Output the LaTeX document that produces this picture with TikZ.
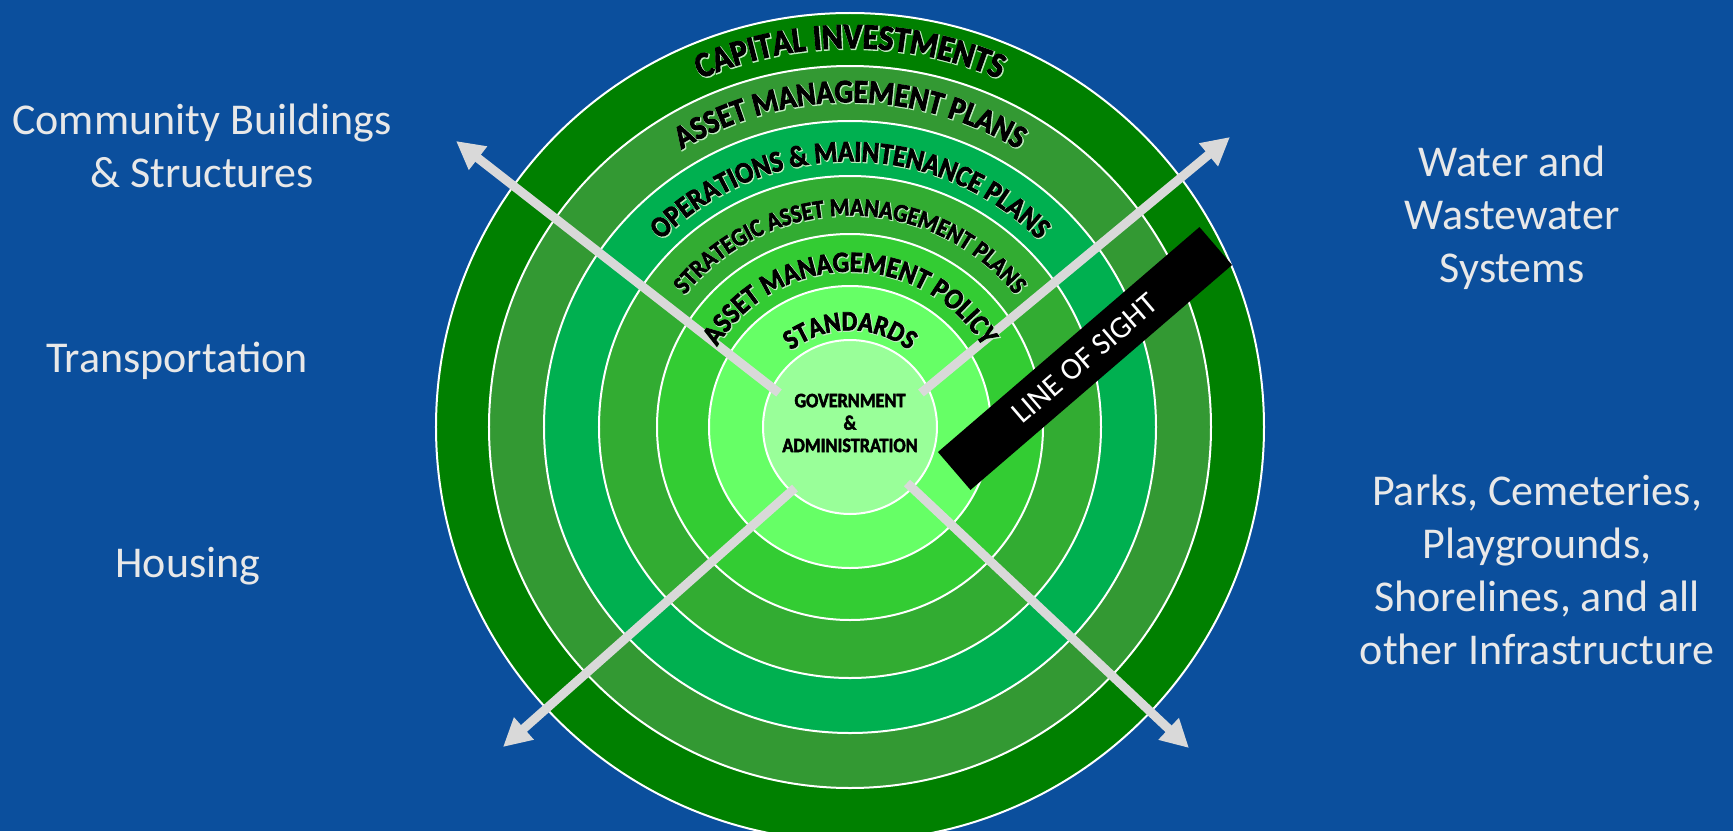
\documentclass[tikz,border=0pt]{standalone}
\usepackage{fontspec}
\setmainfont{Carlito}
\newfontfamily\ringfont{Carlito}[FakeStretch=0.89,BoldFeatures={FakeBold=2.5}]
\newfontfamily\glowfont{Carlito}[FakeStretch=0.89,BoldFeatures={FakeBold=6}]
\usepackage{tikz}
\usetikzlibrary{arrows.meta,decorations.text,positioning}
\definecolor{slideblue}{RGB}{11,79,157}
\definecolor{capitalgreen}{RGB}{0,128,0}
\definecolor{amplansgreen}{RGB}{51,153,51}
\definecolor{omgreen}{RGB}{0,176,80}
\definecolor{strategicgreen}{RGB}{50,172,50}
\definecolor{policygreen}{RGB}{51,204,51}
\definecolor{standardsgreen}{RGB}{102,255,102}
\definecolor{govgreen}{RGB}{153,255,153}
\definecolor{spokegray}{RGB}{217,217,217}
\definecolor{labelwhite}{RGB}{232,232,232}
\definecolor{glowgreen}{RGB}{190,235,190}
\tikzset{ring/.style={
    % The border:
    draw=white,
    line width=1pt,
    },
    spoke/.style={
    draw=spokegray,
    line width=4.5pt,
    -{Triangle[width=14pt,length=14pt]},
    },
    sectorlabel/.style={
    % Font
    font=\fontsize{22}{26.5}\selectfont,
    text=labelwhite,
    align=center,
    inner sep=0pt,
    },
    sightbar/.style={
    % The shape:
    rectangle,
    minimum width=172.5pt,
    minimum height=25pt,
    inner sep=0pt,
    fill=black,
    % Font
    text=white,
    font=\fontsize{15.5}{18}\selectfont,
    },
    govtext/.style={
    font=\ringfont\bfseries\fontsize{10.2}{11.2}\selectfont,
    align=center,
    inner sep=0pt,
    },
}
% curved ring title: radius, size, text
\newcommand\ringlabel[3]{%
  \path[decorate,decoration={text along path,text align=center,text color=glowgreen,
    text={|\glowfont\bfseries\fontsize{#2}{#2}\selectfont|#3}}]
    ([shift={(0.8,-0.8)}]165:#1) arc[start angle=165,end angle=15,radius=#1];
  \path[decorate,decoration={text along path,text align=center,text color=black,
    text={|\ringfont\bfseries\fontsize{#2}{#2}\selectfont|#3}}]
    (165:#1) arc[start angle=165,end angle=15,radius=#1];
}
\begin{document}
\begin{tikzpicture}[x=0.5pt,y=0.5pt]
    \useasboundingbox (-850,-404) rectangle (883,427);
    \fill[slideblue] (-850,-404) rectangle (883,427);
    % rings
    \foreach \rad/\shade in {414/capitalgreen,361/amplansgreen,306/omgreen,251/strategicgreen,193/policygreen,141/standardsgreen,87/govgreen}
      \draw[ring,fill=\shade] (0,0) circle[radius=\rad];
    % spokes
    \coordinate (nwfoot) at (-71,34);
    \coordinate (nwhead) at (-394,286);
    \coordinate (nefoot) at (71,34);
    \coordinate (nehead) at (380,290);
    \coordinate (swfoot) at (-55,-61);
    \coordinate (swhead) at (-347,-320);
    \coordinate (sefoot) at (57,-56);
    \coordinate (sehead) at (339,-321);
    \foreach \d in {nw,ne,sw,se}
      \draw[spoke] (\d foot) -- (\d head);
    \node (sight) [sightbar,rotate=40.7] at (235,68.5) {LINE OF SIGHT};
    \ringlabel{378.7}{17.9}{CAPITAL INVESTMENTS}
    \ringlabel{324.6}{16.5}{ASSET MANAGEMENT PLANS}
    \ringlabel{265.6}{14.9}{OPERATIONS {\&} MAINTENANCE PLANS}
    \ringlabel{211.5}{12.66}{STRATEGIC ASSET MANAGEMENT PLANS}
    \ringlabel{155.3}{14.56}{ASSET MANAGEMENT POLICY}
    \ringlabel{96.7}{13.9}{STANDARDS}
    \node (gov) [govtext] at (0,4) {GOVERNMENT\\\&\\ADMINISTRATION};
    \node (community) [sectorlabel] at (-648,281) {Community Buildings\\\& Structures};
    \node (transport) [sectorlabel,anchor=base] at (-673,55) {Transportation};
    \node (housing)   [sectorlabel,anchor=base] at (-662,-150) {Housing};
    \node (water)     [sectorlabel] at (662,209.5) {Water and\\Wastewater\\Systems};
    \node (parks)     [sectorlabel] at (687,-142.5) {Parks, Cemeteries,\\Playgrounds,\\Shorelines, and all\\other Infrastructure};
\end{tikzpicture}
\end{document}
